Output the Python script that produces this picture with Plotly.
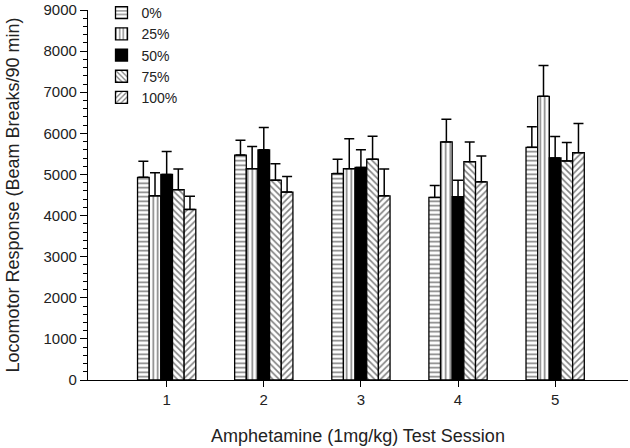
import plotly.graph_objects as go

sessions = [1, 2, 3, 4, 5]
groups = ["0%", "25%", "50%", "75%", "100%"]

# mean beam breaks per group, sessions 1-5
mean_0 = [4930, 5470, 5020, 4440, 5660]
mean_25 = [4480, 5140, 5140, 5790, 6900]
mean_50 = [5000, 5600, 5170, 4460, 5400]
mean_75 = [4630, 4860, 5370, 5310, 5330]
mean_100 = [4150, 4570, 4480, 4820, 5530]

# top of error bar
err_top_0 = [5320, 5830, 5370, 4730, 6160]
err_top_25 = [5040, 5680, 5870, 6340, 7650]
err_top_50 = [5560, 6140, 5600, 4860, 5920]
err_top_75 = [5130, 5260, 5930, 5790, 5780]
err_top_100 = [4470, 4950, 5130, 5450, 6240]

means = [mean_0, mean_25, mean_50, mean_75, mean_100]
tops = [err_top_0, err_top_25, err_top_50, err_top_75, err_top_100]
shapes = ["-", "|", "", "\\", "/"]

fig = go.Figure()
for name, m, t, shp in zip(groups, means, tops, shapes):
    if shp:
        marker = dict(color="white", line=dict(color="black", width=1.3),
                      pattern=dict(shape=shp, fgcolor="black", bgcolor="white",
                                   size=4.5, solidity=0.35))
    else:
        marker = dict(color="black", line=dict(color="black", width=1.3))
    fig.add_trace(go.Bar(
        x=sessions, y=m, name=name, marker=marker,
        error_y=dict(type="data", symmetric=False,
                     array=[a - b for a, b in zip(t, m)],
                     arrayminus=[0] * len(m),
                     color="black", thickness=1.5, width=5)
    ))

fig.update_layout(
    width=630, height=448,
    barmode="group", bargap=0.4, bargroupgap=0,
    plot_bgcolor="white", paper_bgcolor="white",
    font=dict(family="Liberation Sans, Arial", size=15, color="#222"),
    margin=dict(l=88, r=2, t=10, b=68, autoexpand=False),
    legend=dict(x=0.025, y=1.035, xanchor="left", yanchor="top",
                bgcolor="rgba(0,0,0,0)", font=dict(size=14),
                tracegroupgap=0),
    showlegend=True,
)
fig.update_xaxes(
    range=[0.19, 5.75], tickvals=sessions, showline=True, linecolor="black",
    linewidth=1.3, ticks="outside", ticklen=6, tickcolor="black",
    showgrid=False, zeroline=False, tickfont=dict(size=15),
    title=dict(text="Amphetamine (1mg/kg) Test Session", font=dict(size=18), standoff=22),
)
fig.update_yaxes(
    range=[0, 9000], dtick=1000, showline=True, linecolor="black",
    linewidth=1.3, ticks="outside", ticklen=7, tickcolor="black",
    minor=dict(dtick=200, ticks="outside", ticklen=4, tickcolor="black"),
    showgrid=False, zeroline=False, tickfont=dict(size=15),
    title=dict(text="Locomotor Response (Beam Breaks/90 min)", font=dict(size=18), standoff=19),
)

# drop the default body margin so the figure sits at the window's corner
fig.write_html("out.html", config={"displayModeBar": False},
               post_script="document.body.style.margin='0';")
